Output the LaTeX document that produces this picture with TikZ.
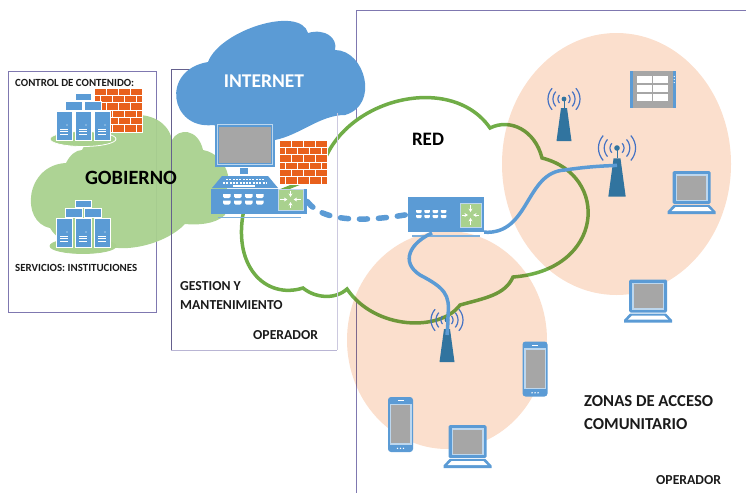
\documentclass[tikz,border=0pt]{standalone}
\usepackage{fontspec}
\setmainfont{Carlito}
\usetikzlibrary{arrows.meta}
\definecolor{netblue}{HTML}{5B9BD5}
\definecolor{paleblue}{HTML}{BDD7EE}
\definecolor{screengray}{HTML}{A6A6A6}
\definecolor{govgreen}{HTML}{A9D18E}
\definecolor{redgreen}{HTML}{70AD47}
\definecolor{brick}{HTML}{E8601C}
\definecolor{peach}{HTML}{FBDFCD}
\definecolor{boxline}{HTML}{7F78B0}
\definecolor{towerblue}{HTML}{31749F}
\definecolor{wavesblue}{HTML}{4472C4}
\definecolor{inktext}{HTML}{1A1A1A}
\tikzset{
	small label/.style={font=\fontsize{10.9}{12}\selectfont\bfseries,text=inktext,inner sep=0pt,anchor=west},
	mid label/.style={font=\fontsize{13.7}{15}\selectfont\bfseries,text=inktext,inner sep=0pt,anchor=west},
	big label/.style={font=\fontsize{16.7}{18}\selectfont\bfseries,text=inktext,inner sep=0pt,anchor=west},
	netbox/.style={fill=netblue,draw=none,inner sep=0pt},
	cable/.style={netblue,line width=3.5pt},
	pics/laptop/.style={code={
		\fill[netblue,rounded corners=1.5pt] (-19,-21.5) rectangle (19,11.5);
		\fill[paleblue] (-16,-18.5) rectangle (16,8.5);
		\fill[screengray] (-14.5,-17) rectangle (14.5,7);
		\fill[netblue] (-18,12.5) -- (18,12.5) -- (24,19) -- (24,21.5) -- (-24,21.5) -- (-24,19) -- cycle;
		\fill[white] (-16,14.5) -- (16,14.5) -- (20,18.5) -- (-20,18.5) -- cycle;
	}},
	pics/phone/.style={code={
		\fill[netblue,rounded corners=3pt] (-12.5,-27.5) rectangle (12.5,27.5);
		\fill[paleblue] (-11,-21) rectangle (11,20);
		\fill[screengray] (-9.5,-19.5) rectangle (9.5,18.5);
		\fill[white] (-3,-24.5) rectangle (3,-23.5);
		\foreach \d in {-3,0,3} \fill[white] (\d,23.8) circle (.8);
	}},
	pics/tablet/.style={code={
		\fill[netblue] (-23,-18.5) rectangle (23,18.5);
		\fill[screengray] (-20.5,-18.5) rectangle (19.5,18.5);
		\foreach \a in {-16,0} \foreach \b/\h in {-13.5/7,-5/7.5,4/7.5}
			\fill[white] (\a,\b) rectangle ++(14.5,\h);
		\foreach \d in {-13,-10,-7} \fill[white] (21.3,\d) circle (.6);
	}},
	pics/tower/.style={code={
		\coordinate (-top) at (0,15);
		\fill[towerblue] (-3,9) -- (3,9) -- (7.5,42) -- (-7.5,42) -- cycle;
		\draw[towerblue,line width=1pt] (0,0) -- (0,9);
		\fill[towerblue] (0,0) circle (2.4);
		\foreach \r in {6,11,16} {
			\draw[wavesblue,line width=1.2pt] plot[domain=-42:42,samples=9,smooth] ({\r*cos(\x)},{\r*sin(\x)});
			\draw[wavesblue,line width=1.2pt] plot[domain=-42:42,samples=9,smooth] ({-\r*cos(\x)},{\r*sin(\x)});
		}
	}},
	pics/firewall/.style={code={
		\fill[brick] (0,0) rectangle (48,44);
		\foreach \r/\s in {0/0,1/6,2/0,3/6,4/0,5/6} {
			\draw[white,line width=.9pt] (0,{\r*7.33}) -- (48,{\r*7.33});
			\foreach \k in {0,1,2,3}
				\draw[white,line width=.9pt] ({\s+12*\k},{\r*7.33}) -- ++(0,7.33);
		}
		\draw[white,line width=.6pt] (0,0) rectangle (48,44);
	}},
	pics/servers/.style={code={
		\filldraw[draw=#1,fill=govgreen,line width=.8pt] (0,46) ellipse [x radius=33,y radius=7.5];
		\foreach \a in {-8} \filldraw[draw=white,fill=netblue,line width=.4pt] (\a,0) rectangle ++(16,7);
		\foreach \a in {-18,1} \filldraw[draw=white,fill=netblue,line width=.4pt] (\a,8.5) rectangle ++(17,9);
		\foreach \a in {-27,-8,11} {
			\filldraw[draw=white,fill=netblue,line width=.4pt] (\a,18.5) rectangle ++(16,29);
			\fill[white] ({\a+11},32) circle (.6);
			\foreach \d in {36,38.5,41} \draw[white,line width=.6pt] ({\a+4},\d) -- ++(8,0);
		}
	}},
	pics/ports/.style={code={
		\foreach \a in {0,1,2,3} \foreach \b in {0,1}
			\fill[white] ({11*\a},{6.7*\b}) -- ++(7.5,0) -- ++(0,2.5) -- ++(-1.5,1.5) -- ++(-4.5,0) -- ++(-1.5,-1.5) -- cycle;
	}},
	pics/arrowsq/.style={code={
		\filldraw[draw=paleblue,fill=govgreen,line width=.6pt] (-11,-11) rectangle (11,11);
		\foreach \a/\b in {-9/0,9/0,0/-9,0/9}
			\draw[white,line width=.8pt,-{Stealth[length=3.5pt,width=4pt]}] (\a,\b) -- ({\a*.3},{\b*.3});
	}},
}
\begin{document}
\begin{tikzpicture}[x=1pt,y=-1pt]
	\useasboundingbox (0,0) rectangle (746,493);
	% boxes behind the clouds
	\draw[boxline,line width=.8pt] (8,71) rectangle (156,312);
	\draw[boxline,line width=.8pt] (746,10) -- (356,10) -- (356,493);
	% gobierno cloud
	\fill[govgreen,opacity=.95] (50,228) .. controls (20,222) and (25,165) .. (66,163)
		.. controls (70,155) and (76,150) .. (82,150)
		.. controls (105,105) and (165,105) .. (172,140)
		.. controls (178,128) and (198,128) .. (203,150)
		.. controls (215,152) and (225,162) .. (228,175)
		-- (225,215) .. controls (215,225) and (195,225) .. (185,224)
		.. controls (165,245) and (120,255) .. (100,243)
		.. controls (85,250) and (60,245) .. (50,228) -- cycle;
	\draw[boxline!80!black,line width=.9pt] (190,69) -- (171,69) -- (171,350);
	\draw[boxline!55,line width=.8pt] (171,350) -- (337,350);
	% internet cloud
	\fill[netblue] (213,125) .. controls (170,130) and (160,70) .. (208,62)
		.. controls (220,30) and (300,5) .. (308,33)
		.. controls (325,28) and (338,38) .. (335,50)
		.. controls (365,50) and (380,105) .. (345,115)
		.. controls (320,115) and (300,135) .. (275,140) -- cycle;
	% red cloud
	\filldraw[fill=white,draw=redgreen,line width=3.5pt] (320,175)
		.. controls (335,100) and (450,70) .. (490,128)
		.. controls (510,118) and (535,130) .. (542,158)
		.. controls (610,175) and (605,270) .. (513,277)
		.. controls (505,295) and (485,298) .. (460,305)
		.. controls (440,332) and (375,330) .. (347,289)
		.. controls (335,300) and (315,298) .. (303,288)
		.. controls (265,300) and (230,265) .. (245,205) -- cycle;
	\draw[boxline!40,line width=.7pt] (337,113) -- (337,350);
	% zonas
	\begin{scope}[blend mode=multiply]
		\fill[peach] (616.5,164) ellipse [x radius=114.5,y radius=131];
		\fill[peach] (447,340) ellipse [x radius=100,y radius=109];
	\end{scope}
	% gobierno equipment
	\pic at (94,88) {firewall};
	\pic at (83,93) {servers=white};
	\pic at (83,200) {servers=govgreen};
	% gestion equipment
	\fill[netblue] (215,122) rectangle (275,167);
	\draw[paleblue,line width=.7pt] (217.5,124.5) rectangle (272.5,164.5);
	\fill[screengray] (219,126.5) rectangle (271,163);
	\fill[netblue] (240,168) rectangle (248,174);
	\pic at (279,140) {firewall};
	\fill[netblue] (222,176) -- (268,176) -- (278,188) -- (212,188) -- cycle;
	\draw[white,line width=1.2pt,dash pattern=on 2pt off 1.3pt] (226,179.5) -- (264,179.5);
	\draw[white,line width=1.2pt,dash pattern=on 2pt off 1.3pt] (223,183) -- (267,183);
	\draw[white,line width=1.2pt] (233,186) -- (255,186);
	\node[netbox,minimum width=96pt,minimum height=25pt] (router) at (259,201.5) {};
	\pic at (223,194) {ports};
	\pic[xscale=1.14,yscale=.95] at (290.5,199.5) {arrowsq};
	\draw[netblue!80,line width=1.5pt] (218,217.5) -- (301,217.5);
	% central switch
	\node[netbox,minimum width=76pt,minimum height=35pt] (sw) at (446,214.5) {};
	\coordinate (swdown) at (432,233);
	\pic[scale=.75] at (416,210) {ports};
	\pic[xscale=.95,yscale=1.09] at (470.5,215) {arrowsq};
	\draw[netblue!80,line width=1.2pt] (412,236) -- (480,236);
	% towers and terminals
	\pic (towerA) at (564,99) {tower};
	\pic[scale=1.16] (towerB) at (617,148) {tower};
	\pic (towerC) at (447,320) {tower};
	\pic at (653,89.5) {tablet};
	\pic at (691.5,192.5) {laptop};
	\pic at (648,301) {laptop};
	\pic at (467.5,446.5) {laptop};
	\pic at (535,369) {phone};
	\pic at (400.5,424.5) {phone};
	% cables
	\draw[netblue,line width=5.5pt,line cap=round,dash pattern=on 8pt off 11pt] (router.east) .. controls (325,225) and (375,220) .. (sw.west);
	\draw[cable] (sw.south east) .. controls (530,235) and (525,172) .. (565,170) .. controls (585,167) and (600,166) .. (towerB-top);
	\draw[cable] (swdown) .. controls (410,243) and (400,262) .. (420,275) .. controls (445,288) and (450,295) .. (448,315) .. controls (448,322) .. (towerC-top);
	% labels
	\node[small label] (control) at (15,83) {CONTROL DE CONTENIDO:};
	\node[small label] (servicios) at (15,268) {SERVICIOS: INSTITUCIONES};
	\node[font=\fontsize{20.3}{24}\selectfont\bfseries,text=black,inner sep=0pt] (gobierno) at (131,178) {GOBIERNO};
	\node[font=\fontsize{19.5}{22}\selectfont\bfseries,text=white,inner sep=0pt] (internet) at (264,81) {INTERNET};
	\node[font=\fontsize{19}{22}\selectfont\bfseries,text=black,inner sep=0pt] (red) at (428,139) {RED};
	\node[mid label] (gestion) at (180,286) {GESTION Y};
	\node[mid label] (mant) at (180,305) {MANTENIMIENTO};
	\node[mid label] (opA) at (253,335) {OPERADOR};
	\node[big label] (zonas) at (584,401) {ZONAS DE ACCESO};
	\node[big label] (comun) at (584,424) {COMUNITARIO};
	\node[mid label] (opB) at (656,480) {OPERADOR};
\end{tikzpicture}
\end{document}
